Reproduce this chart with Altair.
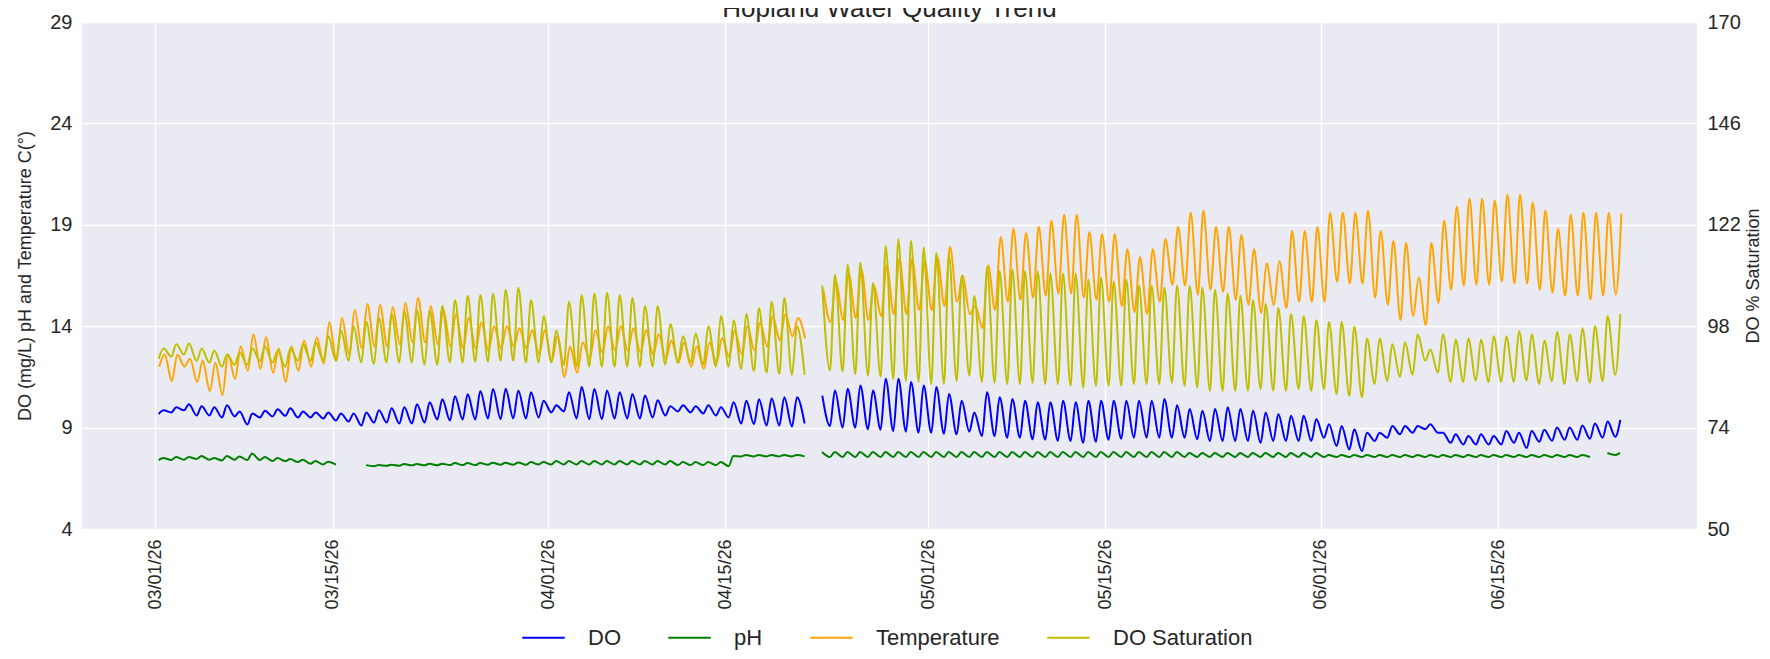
import altair as alt
import pandas as pd

# ---------------- data ----------------
chart_title = "Hopland Water Quality Trend"
series_names = ["DO", "pH", "Temperature", "DO Saturation"]
series_colors = ["#0000ff", "#008000", "#ffa500", "#bfbf00"]
start_date = "2026-03-01"
tick_dates = ["2026-03-01", "2026-03-15", "2026-04-01", "2026-04-15",
              "2026-05-01", "2026-05-15", "2026-06-01", "2026-06-15"]
left_ticks = [4, 9, 14, 19, 24, 29]
right_ticks = [50, 74, 98, 122, 146, 170]

# daily maxima / minima, one entry per day from 03/01/26 (None = no data)
do_hi = [9.85, 10.0, 10.15, 10.05, 10.0, 10.1, 9.8, 9.7, 9.83, 9.9,
         9.95, 9.8, 9.75, 9.75, 9.7, 9.7, 9.75, 9.85, 9.95, 10.0,
         10.15, 10.25, 10.4, 10.55, 10.65, 10.8, 10.9, 10.91, 10.83, 10.74,
         10.33, 10.1, 10.74, 11.0, 10.9, 10.83, 10.74, 10.66, 10.58, 10.35,
         10.05, 10.1, 10.05, 10.1, 10.0, 10.25, 10.33, 10.4, 10.45, 10.5,
         10.5, None, 10.58, 10.83, 10.91, 11.08, 10.83, 11.41, 11.41, 11.25,
         11.08, 11.0, 10.66, 10.33, 9.75, 10.74, 10.5, 10.41, 10.33, 10.25,
         10.25, 10.33, 10.25, 10.33, 10.33, 10.33, 10.33, 10.33, 10.33, 10.41,
         10.1, 9.92, 9.83, 9.92, 10.0, 9.92, 9.83, 9.75, 9.67, 9.58,
         9.58, 9.42, 9.17, 9.08, 8.92, 8.75, 8.75, 9.08, 9.08, 9.08,
         9.17, 8.75, 8.67, 8.58, 8.67, 8.58, 8.83, 8.75, 8.83, 8.9,
         9.0, 9.0, 9.1, 9.2, 9.3, 9.38]
do_lo = [9.67, 9.75, 9.85, 9.6, 9.6, 9.5, 9.55, 9.15, 9.5, 9.55,
         9.58, 9.5, 9.5, 9.45, 9.35, 9.3, 9.1, 9.25, 9.25, 9.2,
         9.2, 9.25, 9.4, 9.35, 9.4, 9.4, 9.45, 9.42, 9.45, 9.45,
         9.5, 9.75, 9.8, 9.45, 9.42, 9.42, 9.45, 9.45, 9.45, 9.5,
         9.6, 9.8, 9.75, 9.7, 9.6, 9.5, 9.2, 9.17, 9.1, 9.1,
         9.05, 9.2, None, 9.08, 9.0, 9.0, 8.92, 8.9, 8.83, 8.8,
         8.75, 8.75, 8.7, 8.67, 8.8, 8.58, 8.58, 8.5, 8.5, 8.42,
         8.4, 8.35, 8.34, 8.25, 8.3, 8.4, 8.45, 8.5, 8.5, 8.5,
         8.5, 8.5, 8.42, 8.34, 8.34, 8.34, 8.34, 8.25, 8.34, 8.34,
         8.34, 8.34, 8.5, 8.09, 7.92, 7.84, 8.34, 8.5, 8.67, 8.75,
         8.92, 8.75, 8.25, 8.17, 8.17, 8.17, 8.17, 8.25, 8.0, 8.3,
         8.35, 8.4, 8.4, 8.45, 8.5, 8.55]

ph_hi = [7.5, 7.55, 7.55, 7.6, 7.5, 7.6, 7.58, 7.72, 7.55, 7.5,
         7.45, 7.42, 7.35, 7.32, None, None, 7.15, 7.15, 7.17, 7.2,
         7.2, 7.22, 7.22, 7.25, 7.25, 7.25, 7.27, 7.27, 7.28, 7.3,
         7.3, 7.35, 7.35, 7.35, 7.35, 7.35, 7.35, 7.35, 7.35, 7.35,
         7.35, 7.3, 7.3, 7.3, 7.3, 7.6, 7.65, 7.65, 7.65, 7.65,
         7.65, None, 7.8, 7.8, 7.8, 7.8, 7.8, 7.8, 7.8, 7.8,
         7.8, 7.8, 7.8, 7.8, 7.8, 7.8, 7.8, 7.8, 7.8, 7.8,
         7.8, 7.8, 7.8, 7.8, 7.8, 7.8, 7.8, 7.8, 7.8, 7.8,
         7.8, 7.75, 7.75, 7.75, 7.75, 7.75, 7.75, 7.75, 7.75, 7.75,
         7.75, 7.75, 7.65, 7.65, 7.65, 7.65, 7.65, 7.65, 7.65, 7.65,
         7.65, 7.65, 7.65, 7.65, 7.65, 7.65, 7.65, 7.65, 7.65, 7.65,
         7.65, 7.65, 7.65, None, 7.75, 7.75]
ph_lo = [7.4, 7.4, 7.42, 7.45, 7.42, 7.38, 7.42, 7.4, 7.4, 7.35,
         7.35, 7.3, 7.22, 7.18, 7.18, None, None, 7.1, 7.12, 7.12,
         7.14, 7.14, 7.14, 7.15, 7.15, 7.15, 7.17, 7.17, 7.17, 7.17,
         7.18, 7.18, 7.18, 7.18, 7.18, 7.18, 7.18, 7.18, 7.18, 7.18,
         7.18, 7.15, 7.15, 7.15, 7.15, 7.1, 7.58, 7.58, 7.58, 7.58,
         7.58, 7.58, None, 7.55, 7.55, 7.55, 7.55, 7.55, 7.55, 7.55,
         7.55, 7.55, 7.55, 7.55, 7.55, 7.55, 7.55, 7.55, 7.55, 7.55,
         7.55, 7.55, 7.55, 7.55, 7.55, 7.55, 7.55, 7.55, 7.55, 7.55,
         7.55, 7.55, 7.55, 7.55, 7.55, 7.55, 7.55, 7.55, 7.55, 7.55,
         7.55, 7.55, 7.55, 7.55, 7.55, 7.55, 7.55, 7.55, 7.55, 7.55,
         7.55, 7.55, 7.55, 7.55, 7.55, 7.55, 7.55, 7.55, 7.55, 7.55,
         7.55, 7.55, 7.55, 7.55, None, 7.65]

temp_hi = [12.6, 12.6, 12.4, 12.3, 12.2, 12.6, 13.0, 13.6, 13.45, 12.9,
           13.0, 13.3, 13.45, 14.2, 14.4, 14.8, 15.1, 15.05, 14.95, 15.15,
           15.4, 15.0, 14.8, 14.6, 14.4, 14.2, 14.0, 14.0, 13.9, 13.8,
           13.8, 13.5, 13.0, 13.2, 13.8, 14.0, 14.0, 13.9, 13.8, 13.6,
           13.3, 13.2, 13.0, 13.2, 13.4, 13.8, 14.0, 14.2, 14.5, 14.6,
           14.4, None, 15.8, 16.2, 16.6, 16.8, 16.0, 17.0, 17.3, 17.3,
           17.2, 17.4, 17.9, 16.5, 15.0, 17.0, 18.4, 18.8, 18.6, 18.9,
           19.2, 19.5, 19.5, 18.65, 18.55, 18.55, 17.8, 17.4, 17.8, 18.3,
           18.9, 19.6, 19.7, 18.9, 18.9, 18.5, 17.8, 17.1, 17.2, 18.7,
           18.7, 18.9, 19.6, 19.6, 19.6, 19.7, 18.7, 18.2, 18.1, 16.4,
           18.1, 19.2, 19.9, 20.3, 20.3, 20.2, 20.5, 20.5, 20.1, 19.7,
           18.8, 19.5, 19.6, 19.6, 19.6, 19.55]
temp_lo = [12.0, 11.3, 12.0, 11.25, 10.8, 10.6, 11.4, 11.8, 11.9, 11.7,
           11.25, 11.8, 12.0, 12.15, 12.3, 12.6, 12.9, 13.0, 13.0, 13.1,
           13.2, 13.2, 13.1, 13.0, 12.9, 12.9, 12.8, 12.9, 13.0, 12.9,
           12.6, 12.3, 11.5, 11.7, 12.4, 12.7, 12.8, 12.8, 12.7, 12.6,
           12.4, 12.2, 12.0, 11.9, 12.2, 12.5, 12.6, 12.8, 13.0, 13.3,
           13.5, 13.4, None, 14.2, 14.3, 14.4, 14.3, 14.5, 14.6, 14.6,
           14.8, 14.8, 15.0, 15.2, 14.6, 13.9, 14.8, 15.2, 15.3, 15.4,
           15.5, 15.6, 15.6, 15.4, 15.3, 15.2, 15.0, 14.7, 14.6, 15.2,
           16.05, 16.0, 15.55, 15.8, 15.7, 15.3, 15.05, 14.65, 15.05, 14.9,
           15.2, 15.2, 15.2, 16.2, 16.1, 16.1, 15.4, 15.05, 14.3, 14.5,
           14.05, 15.15, 15.8, 16.0, 16.05, 16.05, 16.2, 16.1, 16.1, 15.8,
           15.65, 15.5, 15.5, 15.3, 15.5, 15.55]

sat_hi = [92.7, 93.7, 93.9, 92.7, 92.2, 91.3, 91.8, 92.7, 93.2, 92.2,
          92.7, 93.7, 94.2, 95.6, 97.0, 98.0, 99.0, 99.9, 100.9, 101.4,
          101.8, 101.8, 102.8, 104.2, 105.2, 105.4, 105.7, 106.6, 107.1, 104.2,
          100.4, 97.0, 103.8, 105.4, 105.7, 105.9, 105.4, 104.7, 102.8, 102.8,
          98.5, 95.6, 96.3, 98.0, 100.4, 99.4, 100.9, 102.3, 103.8, 104.7,
          98.0, None, 107.6, 110.2, 112.6, 113.0, 108.2, 117.0, 118.6, 118.2,
          116.6, 115.4, 114.8, 109.8, 105.2, 111.9, 111.0, 111.4, 111.0, 111.0,
          110.5, 110.5, 110.5, 109.0, 109.5, 108.6, 109.0, 107.6, 107.6, 107.1,
          107.6, 107.6, 107.1, 106.6, 105.7, 105.2, 104.2, 103.3, 102.3, 100.9,
          100.4, 99.4, 99.0, 99.0, 97.9, 95.1, 95.1, 93.7, 94.2, 96.1,
          92.5, 96.1, 94.8, 95.1, 94.8, 95.6, 95.6, 96.8, 96.1, 94.6,
          96.6, 96.1, 97.5, 98.0, 100.4, 100.9]
sat_lo = [90.3, 90.8, 91.3, 89.8, 89.4, 88.4, 88.9, 88.9, 89.8, 89.4,
          88.4, 89.8, 89.8, 89.8, 89.8, 89.8, 89.4, 89.1, 89.4, 89.4,
          89.4, 88.9, 88.9, 89.4, 89.4, 89.6, 89.6, 89.8, 89.8, 89.4,
          89.4, 89.4, 88.9, 88.4, 88.4, 88.4, 88.4, 88.4, 88.4, 88.4,
          88.9, 89.4, 89.4, 88.9, 88.4, 88.4, 87.9, 87.4, 87.0, 86.7,
          86.5, 86.5, None, 87.5, 87.2, 86.7, 86.3, 86.0, 85.5, 85.1,
          84.8, 84.3, 84.3, 85.0, 86.3, 84.8, 84.6, 84.3, 84.3, 84.6,
          84.3, 84.3, 83.9, 83.5, 83.9, 83.9, 83.9, 84.3, 84.3, 84.3,
          84.6, 83.9, 83.5, 82.7, 82.7, 82.7, 82.7, 83.1, 82.7, 82.7,
          83.1, 82.7, 83.1, 81.9, 81.5, 81.2, 84.3, 85.1, 86.0, 86.5,
          89.8, 87.0, 84.8, 84.8, 85.1, 84.8, 84.8, 84.8, 85.1, 84.3,
          85.0, 84.3, 85.0, 84.6, 85.0, 86.5]

# hour of the day at which the daily minimum / maximum occurs
phase = {"DO": (6, 15.5), "pH": (6, 15), "Temperature": (7, 17.5), "DO Saturation": (6, 15.5)}

# ---------------- table ----------------
base = pd.Timestamp(start_date)


def build(name, hi, lo):
    rows, seg, gap = [], 0, False
    h_lo, h_hi = phase[name]
    for d in range(len(hi)):
        for hour, val in ((h_lo, lo[d]), (h_hi, hi[d])):
            if val is None:
                if not gap:
                    seg += 1
                gap = True
                continue
            gap = False
            t = base + pd.Timedelta(days=d, hours=hour)
            rows.append({"t": t.strftime("%Y-%m-%dT%H:%M:%S"), "v": val,
                         "series": name, "seg": f"{name}-{seg}"})
    return rows


left_df = pd.DataFrame(build("DO", do_hi, do_lo) + build("pH", ph_hi, ph_lo)
                       + build("Temperature", temp_hi, temp_lo))
right_df = pd.DataFrame(build("DO Saturation", sat_hi, sat_lo))
title_df = pd.DataFrame({"label": [chart_title]})


def dt(s):
    ts = pd.Timestamp(s)
    return alt.DateTime(year=ts.year, month=ts.month, date=ts.day,
                        hours=ts.hour, minutes=ts.minute)


x_domain = [dt("2026-02-23T04:48"), dt("2026-06-30T16:48")]
tick_vals = [dt(s) for s in tick_dates]

FONT = "Liberation Sans"
TXT = "#262626"
W, H = 1615, 507

x_enc = alt.X("t:T", title=None,
              scale=alt.Scale(domain=x_domain, nice=False),
              axis=alt.Axis(values=tick_vals, format="%m/%d/%y", labelAngle=270,
                            labelAlign="right", labelBaseline="middle",
                            labelFontSize=18, labelPadding=10, labelColor=TXT,
                            ticks=False, domain=False, grid=True,
                            gridColor="white", gridWidth=1.3, labelFont=FONT))

color_enc = alt.Color("series:N",
                      scale=alt.Scale(domain=series_names, range=series_colors),
                      legend=alt.Legend(title=None, orient="none", direction="horizontal",
                                        legendX=439, legendY=593,
                                        symbolType="stroke", symbolSize=1800,
                                        symbolStrokeWidth=2, labelFontSize=22,
                                        labelFont=FONT, labelColor=TXT,
                                        labelOffset=22, columnPadding=43))

left = alt.Chart(left_df).mark_line(strokeWidth=2, interpolate="monotone").encode(
    x=x_enc,
    y=alt.Y("v:Q", title="DO (mg/L) pH and Temperature C(°)",
            scale=alt.Scale(domain=[4, 29], nice=False, zero=False),
            axis=alt.Axis(values=left_ticks, orient="left", labelFontSize=20,
                          labelPadding=10, labelColor=TXT, labelFont=FONT,
                          titleFontSize=18, titleFont=FONT, titleColor=TXT,
                          titleFontWeight="normal", titleAngle=270,
                          titleAlign="center", titleBaseline="middle",
                          titleX=-57, titleY=H / 2,
                          ticks=False, domain=False, grid=True,
                          gridColor="white", gridWidth=1.3)),
    color=color_enc,
    detail="seg:N",
)

right = alt.Chart(right_df).mark_line(strokeWidth=2, interpolate="monotone").encode(
    x=x_enc,
    y=alt.Y("v:Q", title="DO % Saturation",
            scale=alt.Scale(domain=[50, 170], nice=False, zero=False),
            axis=alt.Axis(values=right_ticks, orient="right", labelFontSize=20,
                          labelPadding=10, labelColor=TXT, labelFont=FONT,
                          titleFontSize=18, titleFont=FONT, titleColor=TXT,
                          titleFontWeight="normal", titleAngle=270,
                          titleAlign="center", titleBaseline="middle",
                          titleX=56, titleY=H / 2,
                          ticks=False, domain=False, grid=False)),
    color=color_enc,
    detail="seg:N",
)

# chart title, drawn just above the plot area (its top is cut by the page edge, as in the reference)
title_layer = alt.Chart(title_df).mark_text(
    font=FONT, fontSize=26, color=TXT, align="center", baseline="alphabetic"
).encode(text="label:N", x=alt.value(W / 2), y=alt.value(-5))

chart = alt.layer(left, right, title_layer).resolve_scale(y="independent").properties(
    width=W, height=H,
    background="white",
    autosize=alt.AutoSizeParams(type="none"),
    padding={"left": 74, "top": 14, "right": 65, "bottom": 121},
).configure_view(fill="#eaeaf2", strokeWidth=0)

chart.save("out.html", embed_options={"renderer": "svg", "actions": False})
